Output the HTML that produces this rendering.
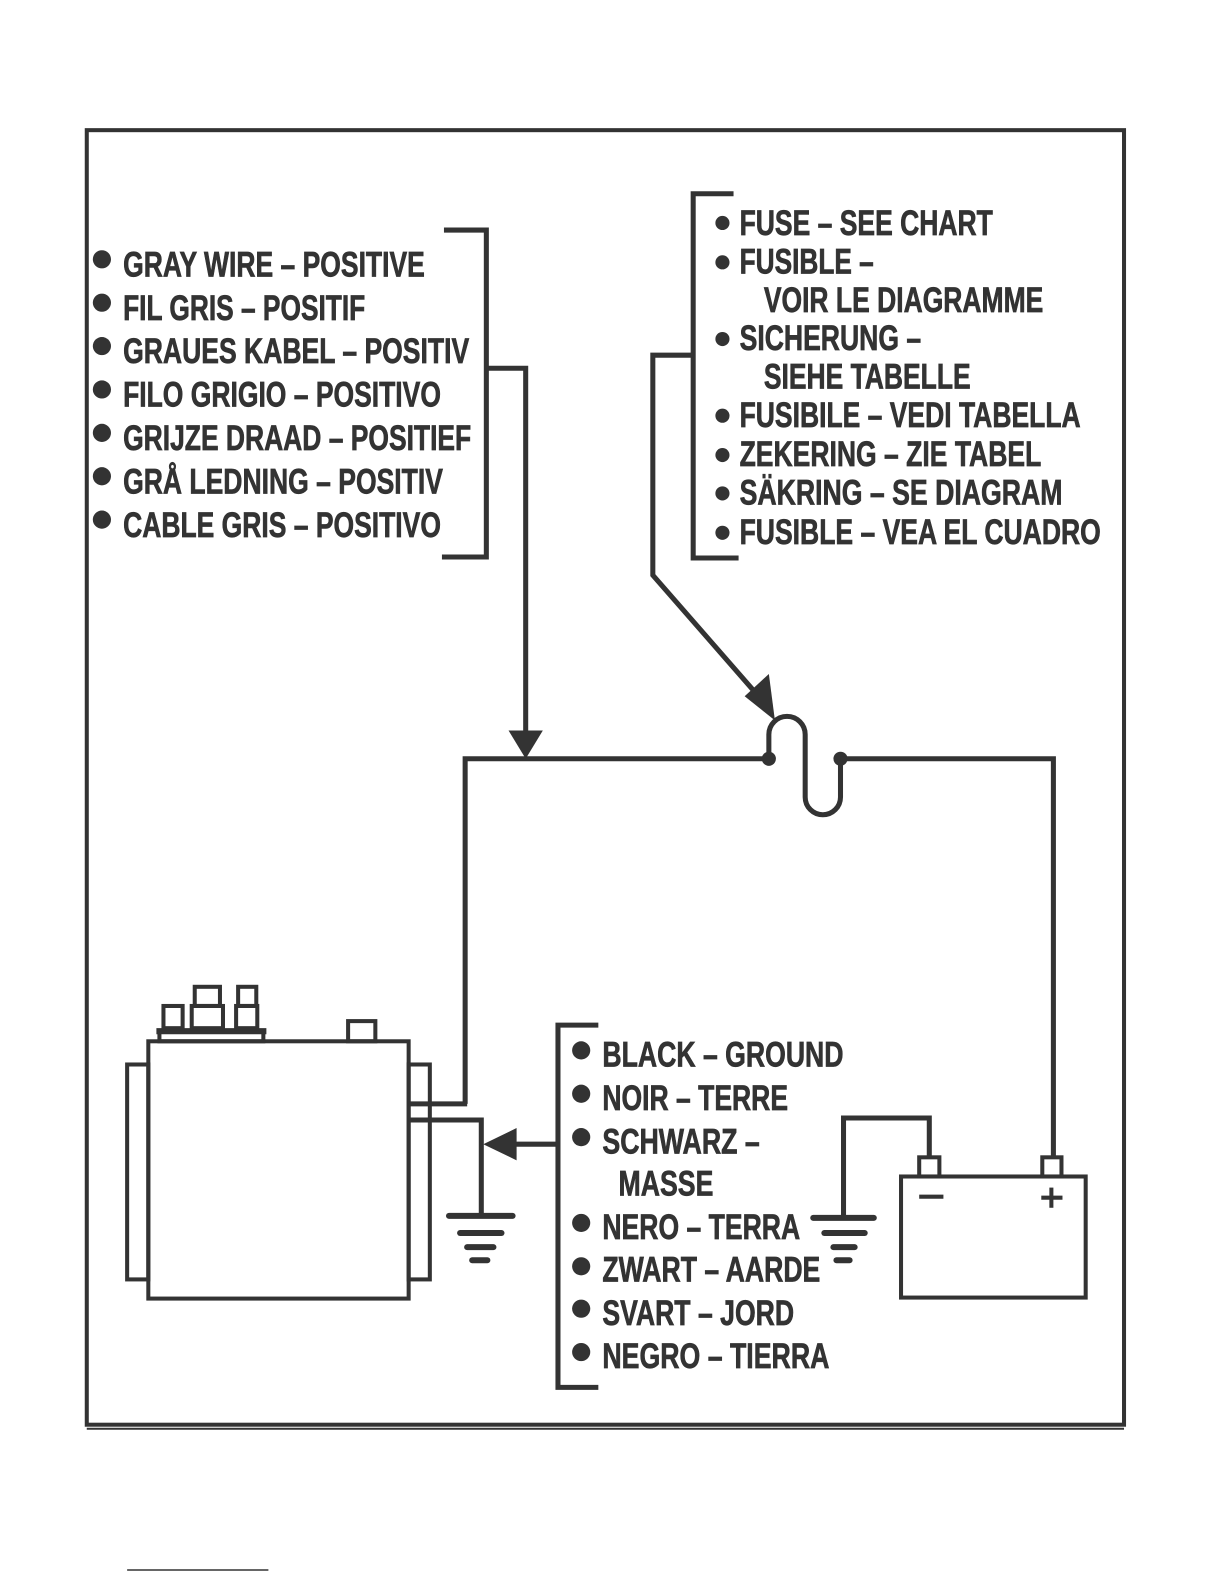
<!DOCTYPE html>
<html><head><meta charset="utf-8"><style>
html,body{margin:0;padding:0;background:#fff}
svg{display:block}
text{font-family:"Liberation Sans",sans-serif;font-weight:bold;font-size:35px;fill:#333;stroke:#333;stroke-width:0.7}
</style></head><body>
<svg width="1224" height="1584" viewBox="0 0 1224 1584" xmlns="http://www.w3.org/2000/svg">
<g transform="scale(1.009)" stroke="#333" fill="none" stroke-width="4">
<rect x="86" y="129" width="1028" height="1283" stroke-width="4"/>
<line x1="86" y1="1416" x2="1114" y2="1416" stroke-width="2"/>
<polyline points="440,228 482,228 482,552 438,552" stroke-width="5"/>
<polyline points="484,365 521,365 521,728" stroke-width="5"/>
<polygon points="504,724 538,724 521,752" fill="#333" stroke="none"/>
<polyline points="727,192 687,192 687,553 732,553" stroke-width="5"/>
<polyline points="687,352 647,352 647,570 750,688" stroke-width="5"/>
<polygon points="738,690 762,668 768,714" fill="#333" stroke="none"/>
<polyline points="461,1094 461,752 762,752" stroke-width="5"/>
<path d="M762,752 L762,728 A18,18 0 0 1 798,728 L798,790 A17.5,17.5 0 0 0 833,790 L833,752" stroke-width="5"/>
<circle cx="762" cy="752" r="7" fill="#333" stroke="none"/>
<circle cx="833" cy="752" r="7" fill="#333" stroke="none"/>
<polyline points="833,752 1044,752 1044,1147" stroke-width="5"/>
<rect x="147" y="1032" width="258" height="255"/>
<rect x="126" y="1055" width="21" height="213"/>
<rect x="405" y="1055" width="21" height="213"/>
<rect x="158" y="1022" width="103" height="10"/>
<line x1="155" y1="1022" x2="264" y2="1022" stroke-width="6"/>
<rect x="162" y="997" width="19" height="22"/>
<rect x="190" y="997" width="31" height="22"/>
<rect x="193" y="978" width="25" height="19"/>
<rect x="234" y="997" width="21" height="22"/>
<rect x="236" y="978" width="18" height="19"/>
<rect x="345" y="1012" width="27" height="20"/>
<line x1="405" y1="1094" x2="463" y2="1094" stroke-width="5"/>
<polyline points="405,1110 477,1110 477,1205" stroke-width="5"/>
<line x1="445" y1="1205" x2="508" y2="1205" stroke-width="6" stroke-linecap="round"/>
<line x1="456" y1="1222" x2="497" y2="1222" stroke-width="6" stroke-linecap="round"/>
<line x1="463" y1="1236" x2="489" y2="1236" stroke-width="6" stroke-linecap="round"/>
<line x1="468" y1="1249" x2="483" y2="1249" stroke-width="6" stroke-linecap="round"/>
<line x1="505" y1="1134" x2="553" y2="1134" stroke-width="5"/>
<polygon points="479,1134 512,1118 512,1150" fill="#333" stroke="none"/>
<polyline points="593,1016 553,1016 553,1375 593,1375" stroke-width="5"/>
<rect x="893" y="1166" width="183" height="120"/>
<rect x="911" y="1147" width="20" height="19"/>
<rect x="1033" y="1147" width="19" height="19"/>
<line x1="911" y1="1186" x2="935" y2="1186" stroke-width="4"/>
<line x1="1032" y1="1187" x2="1053" y2="1187" stroke-width="4"/>
<line x1="1042" y1="1177" x2="1042" y2="1197" stroke-width="4"/>
<polyline points="921,1147 921,1108 836,1108 836,1205" stroke-width="5"/>
<line x1="806" y1="1207" x2="866" y2="1207" stroke-width="6" stroke-linecap="round"/>
<line x1="817" y1="1222" x2="857" y2="1222" stroke-width="6" stroke-linecap="round"/>
<line x1="826" y1="1236" x2="847" y2="1236" stroke-width="6" stroke-linecap="round"/>
<line x1="829" y1="1249" x2="842" y2="1249" stroke-width="6" stroke-linecap="round"/>
<line x1="126" y1="1556" x2="266" y2="1556" stroke-width="1.5"/>
<g fill="#333" stroke="none">
<circle cx="101" cy="257" r="9"/><circle cx="101" cy="300" r="9"/><circle cx="101" cy="343" r="9"/><circle cx="101" cy="386" r="9"/><circle cx="101" cy="429" r="9"/><circle cx="101" cy="472" r="9"/><circle cx="101" cy="515" r="9"/>
<circle cx="716" cy="221" r="7"/><circle cx="716" cy="260" r="7"/><circle cx="716" cy="336" r="7"/><circle cx="716" cy="412" r="7"/><circle cx="716" cy="451" r="7"/><circle cx="716" cy="489" r="7"/><circle cx="716" cy="528" r="7"/>
<circle cx="576" cy="1041" r="9"/><circle cx="576" cy="1084" r="9"/><circle cx="576" cy="1127" r="9"/><circle cx="576" cy="1212" r="9"/><circle cx="576" cy="1255" r="9"/><circle cx="576" cy="1297" r="9"/><circle cx="576" cy="1340" r="9"/>
</g>
</g>
<g transform="scale(1.009)">
<text x="122" y="274" textLength="299" lengthAdjust="spacingAndGlyphs">GRAY WIRE – POSITIVE</text>
<text x="122" y="317" textLength="240" lengthAdjust="spacingAndGlyphs">FIL GRIS – POSITIF</text>
<text x="122" y="360" textLength="343" lengthAdjust="spacingAndGlyphs">GRAUES KABEL – POSITIV</text>
<text x="122" y="403" textLength="315" lengthAdjust="spacingAndGlyphs">FILO GRIGIO – POSITIVO</text>
<text x="122" y="446" textLength="345" lengthAdjust="spacingAndGlyphs">GRIJZE DRAAD – POSITIEF</text>
<text x="122" y="489" textLength="317" lengthAdjust="spacingAndGlyphs">GRÅ LEDNING – POSITIV</text>
<text x="122" y="532" textLength="315" lengthAdjust="spacingAndGlyphs">CABLE GRIS – POSITIVO</text>

<text x="733" y="233" textLength="251" lengthAdjust="spacingAndGlyphs">FUSE – SEE CHART</text>
<text x="733" y="271" textLength="133" lengthAdjust="spacingAndGlyphs">FUSIBLE –</text>
<text x="757" y="309" textLength="277" lengthAdjust="spacingAndGlyphs">VOIR LE DIAGRAMME</text>
<text x="733" y="347" textLength="180" lengthAdjust="spacingAndGlyphs">SICHERUNG –</text>
<text x="757" y="385" textLength="205" lengthAdjust="spacingAndGlyphs">SIEHE TABELLE</text>
<text x="733" y="423" textLength="338" lengthAdjust="spacingAndGlyphs">FUSIBILE – VEDI TABELLA</text>
<text x="733" y="462" textLength="299" lengthAdjust="spacingAndGlyphs">ZEKERING – ZIE TABEL</text>
<text x="733" y="500" textLength="320" lengthAdjust="spacingAndGlyphs">SÄKRING – SE DIAGRAM</text>
<text x="733" y="539" textLength="358" lengthAdjust="spacingAndGlyphs">FUSIBLE – VEA EL CUADRO</text>

<text x="597" y="1057" textLength="239" lengthAdjust="spacingAndGlyphs">BLACK – GROUND</text>
<text x="597" y="1100" textLength="184" lengthAdjust="spacingAndGlyphs">NOIR – TERRE</text>
<text x="597" y="1143" textLength="156" lengthAdjust="spacingAndGlyphs">SCHWARZ –</text>
<text x="613" y="1185" textLength="94" lengthAdjust="spacingAndGlyphs">MASSE</text>
<text x="597" y="1228" textLength="196" lengthAdjust="spacingAndGlyphs">NERO – TERRA</text>
<text x="597" y="1270" textLength="216" lengthAdjust="spacingAndGlyphs">ZWART – AARDE</text>
<text x="597" y="1313" textLength="190" lengthAdjust="spacingAndGlyphs">SVART – JORD</text>
<text x="597" y="1356" textLength="225" lengthAdjust="spacingAndGlyphs">NEGRO – TIERRA</text>
</g>
</svg>
</body></html>
